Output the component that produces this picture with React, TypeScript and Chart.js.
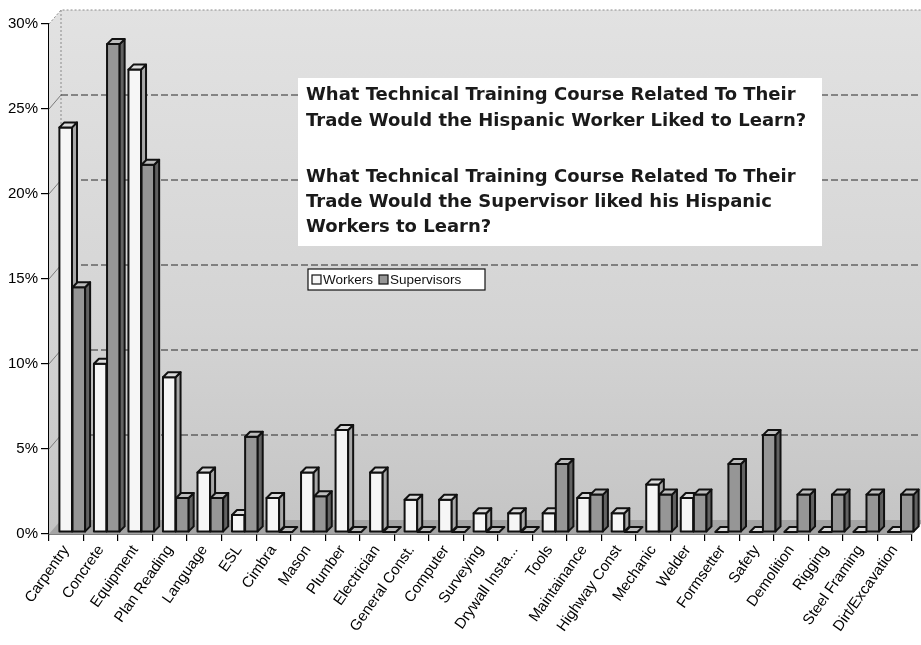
import React, { useEffect, useRef } from "react";
import { Chart, registerables } from "chart.js";

Chart.register(...registerables);

const categories = [
  "Carpentry", "Concrete", "Equipment", "Plan Reading", "Language", "ESL", "Cimbra",
  "Mason", "Plumber", "Electrician", "General Const.", "Computer", "Surveying",
  "Drywall Insta...", "Tools", "Maintainance", "Highway Const", "Mechanic", "Welder",
  "Formsetter", "Safety", "Demolition", "Rigging", "Steel Framing", "Dirt/Excavation",
];
const workers = [
  23.8, 9.9, 27.2, 9.1, 3.5, 1.0, 2.0, 3.5, 6.0, 3.5, 1.9, 1.9, 1.1,
  1.1, 1.1, 2.0, 1.1, 2.8, 2.0, 0, 0, 0, 0, 0, 0,
];
const supervisors = [
  14.4, 28.7, 21.6, 2.0, 2.0, 5.6, 0, 2.1, 0, 0, 0, 0, 0,
  0, 4.0, 2.2, 0, 2.2, 2.2, 4.0, 5.7, 2.2, 2.2, 2.2, 2.2,
];
const seriesNames = ["Workers", "Supervisors"];
const yTickValues = [0, 5, 10, 15, 20, 25, 30];
const yTickLabels = ["0%", "5%", "10%", "15%", "20%", "25%", "30%"];
const titleLines = [
  "What Technical Training Course Related To Their",
  "Trade Would the Hispanic Worker Liked to Learn?",
  "",
  "What Technical Training Course Related To Their",
  "Trade Would the Supervisor liked his Hispanic",
  "Workers to Learn?",
];

const BAR_DEPTH = 5;
const BAR_SHIFT_X = 6;
const BAR_LIFT = 2;
const WALL_DX = 12;
const WALL_DY = 14;
const faces = [
  { front: "#f6f6f6", side: "#a8a8a8", top: "#dcdcdc" },
  { front: "#969696", side: "#626262", top: "#bdbdbd" },
];

function poly(ctx: CanvasRenderingContext2D, pts: number[][], fill: any, stroke: boolean) {
  ctx.beginPath();
  ctx.moveTo(pts[0][0], pts[0][1]);
  for (let i = 1; i < pts.length; i++) ctx.lineTo(pts[i][0], pts[i][1]);
  ctx.closePath();
  if (fill) {
    ctx.fillStyle = fill;
    ctx.fill();
  }
  if (stroke) ctx.stroke();
}

const pseudo3d = {
  id: "pseudo3d",
  beforeDatasetsDraw(chart: any) {
    const { ctx, chartArea: a, scales } = chart;
    const y = scales.y;
    ctx.save();
    const grad = ctx.createLinearGradient(0, a.top - WALL_DY, 0, a.bottom);
    grad.addColorStop(0, "#e2e2e2");
    grad.addColorStop(0.6, "#d4d4d4");
    grad.addColorStop(1, "#c4c4c4");
    poly(ctx, [
      [a.left, a.bottom], [a.left, a.top], [a.left + WALL_DX, a.top - WALL_DY],
      [a.right + WALL_DX, a.top - WALL_DY], [a.right + WALL_DX, a.bottom - WALL_DY], [a.right, a.bottom],
    ], grad, false);
    // floor
    poly(ctx, [
      [a.left, a.bottom], [a.left + WALL_DX, a.bottom - WALL_DY],
      [a.right + WALL_DX, a.bottom - WALL_DY], [a.right, a.bottom],
    ], "#a4a4a4", false);
    // wall edges
    ctx.strokeStyle = "#8a8a8a";
    ctx.lineWidth = 1;
    ctx.setLineDash([2, 2]);
    ctx.beginPath();
    ctx.moveTo(a.left + WALL_DX, a.top - WALL_DY);
    ctx.lineTo(a.left + WALL_DX, a.bottom - WALL_DY);
    ctx.moveTo(a.left, a.top);
    ctx.lineTo(a.left + WALL_DX, a.top - WALL_DY);
    ctx.lineTo(a.right + WALL_DX, a.top - WALL_DY);
    ctx.stroke();
    // gridlines on back wall
    for (const t of y.ticks) {
      const v = t.value;
      if (v <= 0 || v >= 30) continue;
      const py = y.getPixelForValue(v);
      ctx.setLineDash([]);
      ctx.strokeStyle = "#7a7a7a";
      ctx.beginPath();
      ctx.moveTo(a.left, py);
      ctx.lineTo(a.left + WALL_DX, py - WALL_DY);
      ctx.stroke();
      ctx.strokeStyle = "#2a2a2a";
      ctx.setLineDash([7, 3]);
      ctx.beginPath();
      ctx.moveTo(a.left + WALL_DX, py - WALL_DY);
      ctx.lineTo(a.right + WALL_DX, py - WALL_DY);
      ctx.stroke();
    }
    ctx.restore();
  },
  afterDatasetsDraw(chart: any) {
    const { ctx, chartArea: a } = chart;
    const metas = [0, 1].map((i) => chart.getDatasetMeta(i));
    const n = metas[0].data.length;
    ctx.save();
    ctx.lineJoin = "round";
    ctx.strokeStyle = "#111";
    ctx.lineWidth = 2;
    const D = BAR_DEPTH;
    for (let j = 0; j < n; j++) {
      for (let k = 0; k < metas.length; k++) {
        const el = metas[k].data[j];
        const { x, y, base, width } = el.getProps(["x", "y", "base", "width"], true);
        const l = x - width / 2 + BAR_SHIFT_X;
        const r = x + width / 2 + BAR_SHIFT_X;
        const t = Math.min(y, base) - BAR_LIFT;
        const b = base - BAR_LIFT;
        if (b - t > 0.5) {
          poly(ctx, [[l, t], [r, t], [r, b], [l, b]], faces[k].front, true);
          poly(ctx, [[r, t], [r + D, t - D], [r + D, b - D], [r, b]], faces[k].side, true);
        }
        poly(ctx, [[l, t], [l + D, t - D], [r + D, t - D], [r, t]], faces[k].top, true);
      }
    }
    ctx.restore();

    // title box
    ctx.save();
    const bx = a.left + 249;
    const by = a.top + 54;
    ctx.fillStyle = "#ffffff";
    ctx.fillRect(bx, by, 524, 168);
    ctx.fillStyle = "#1a1a1a";
    ctx.font = "bold 18px 'DejaVu Sans', Verdana, sans-serif";
    ctx.textBaseline = "middle";
    ctx.textAlign = "left";
    const lineY = [17, 43, 0, 99, 124, 149];
    titleLines.forEach((line, i) => {
      if (line) ctx.fillText(line, bx + 8, by + lineY[i]);
    });
    ctx.restore();

    // legend
    ctx.save();
    const lx = a.left + 259;
    const lyy = a.top + 245;
    ctx.fillStyle = "#ffffff";
    ctx.fillRect(lx, lyy, 177, 21);
    ctx.strokeStyle = "#111";
    ctx.lineWidth = 1.2;
    ctx.strokeRect(lx, lyy, 177, 21);
    ctx.font = "13.5px 'Liberation Sans', Arial, sans-serif";
    ctx.textBaseline = "middle";
    let cx = lx + 4;
    seriesNames.forEach((name, i) => {
      ctx.fillStyle = faces[i].front;
      ctx.fillRect(cx, lyy + 6, 9, 9);
      ctx.strokeRect(cx, lyy + 6, 9, 9);
      ctx.fillStyle = "#111";
      ctx.fillText(name, cx + 11, lyy + 11);
      cx += 11 + ctx.measureText(name).width + 6;
    });
    ctx.restore();
  },
};

export default function App() {
  const canvasRef = useRef<HTMLCanvasElement | null>(null);
  useEffect(() => {
    const canvas = canvasRef.current;
    if (!canvas) return;
    const tickFont = { family: "'Liberation Sans', Arial, sans-serif", size: 15 };
    const chart = new Chart(canvas, {
      type: "bar",
      data: {
        labels: categories,
        datasets: [
          { label: seriesNames[0], data: workers, backgroundColor: "rgba(0,0,0,0)", borderWidth: 0 },
          { label: seriesNames[1], data: supervisors, backgroundColor: "rgba(0,0,0,0)", borderWidth: 0 },
        ],
      },
      options: {
        responsive: false,
        animation: false,
        devicePixelRatio: 1,
        categoryPercentage: 0.76,
        barPercentage: 0.96,
        layout: { padding: { top: 24, right: 9, left: 0, bottom: 0 } },
        plugins: { legend: { display: false }, tooltip: { enabled: false } },
        scales: {
          x: {
            grid: { offset: true, drawOnChartArea: false, tickLength: 7, color: "#000", lineWidth: 1.2 },
            border: { color: "#000", width: 1.5 },
            ticks: { minRotation: 55, maxRotation: 55, autoSkip: false, font: tickFont, color: "#000", padding: 1 },
            afterFit: (s: any) => { s.height = 111; },
          },
          y: {
            min: 0,
            max: 30,
            afterBuildTicks: (s: any) => { s.ticks = yTickValues.map((v) => ({ value: v })); },
            ticks: { font: tickFont, color: "#000", padding: 3, callback: (_v: any, i: number) => yTickLabels[i] },
            grid: { drawOnChartArea: false, tickLength: 8, color: "#000", lineWidth: 1.2 },
            border: { color: "#000", width: 1.5 },
            afterFit: (s: any) => { s.width = 49; },
          },
        },
      } as any,
      plugins: [pseudo3d],
    });
    return () => chart.destroy();
  }, []);
  return (
    <div style={{ position: "fixed", left: 0, top: 0, width: 921, height: 645, background: "#fff" }}>
      <canvas ref={canvasRef} width={921} height={645} style={{ width: 921, height: 645, display: "block" }} />
    </div>
  );
}
